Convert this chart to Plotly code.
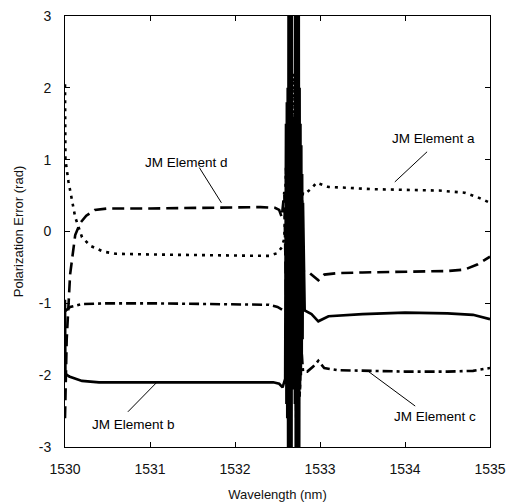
import plotly.graph_objects as go

# ---- data ----
a_x = [1530.000, 1530.005, 1530.040, 1530.120, 1530.200, 1530.300, 1530.450, 1530.600, 1531.000,
       1531.500, 1532.000, 1532.400, 1532.500, 1532.550, 1532.580, 1532.600, 1532.620, 1532.640,
       1532.660, 1532.680, 1532.700, 1532.720, 1532.740, 1532.760, 1532.780, 1532.800, 1532.850,
       1532.900, 1532.960, 1533.000, 1533.100, 1533.300, 1533.600, 1534.000, 1534.400, 1534.700,
       1534.850, 1535.000]
a_y = [2.05, 1.00, 0.70, 0.20, -0.08, -0.20, -0.28, -0.31, -0.32,
       -0.33, -0.34, -0.34, -0.30, -0.22, -0.10, 0.90, -0.60, 1.80,
       -0.50, 2.20, 0.10, 1.40, -0.40, 0.90, 0.30, 0.55, 0.55,
       0.60, 0.68, 0.66, 0.62, 0.61, 0.59, 0.58, 0.57, 0.54,
       0.48, 0.40]

d_x = [1530.000, 1530.020, 1530.060, 1530.120, 1530.180, 1530.250, 1530.350, 1530.500, 1531.000,
       1531.500, 1532.000, 1532.300, 1532.470, 1532.520, 1532.550, 1532.580, 1532.600, 1532.620,
       1532.640, 1532.660, 1532.680, 1532.700, 1532.720, 1532.740, 1532.760, 1532.780, 1532.800,
       1532.850, 1532.920, 1532.980, 1533.050, 1533.200, 1533.500, 1534.000, 1534.500, 1534.700,
       1534.850, 1535.000]
d_y = [-2.60, -1.50, -0.60, -0.05, 0.12, 0.22, 0.30, 0.32, 0.32,
       0.33, 0.33, 0.34, 0.33, 0.30, 0.20, 0.55, -0.90, 1.60,
       -1.40, 0.80, -1.80, 1.20, -1.20, 0.40, -0.90, -0.30, -0.55,
       -0.55, -0.62, -0.68, -0.60, -0.58, -0.57, -0.56, -0.55, -0.53,
       -0.46, -0.35]

b_x = [1530.000, 1530.005, 1530.050, 1530.200, 1530.400, 1531.000, 1531.500, 1532.000, 1532.450,
       1532.520, 1532.560, 1532.590,
       1532.600, 1532.605, 1532.610, 1532.615, 1532.620, 1532.625, 1532.630, 1532.635, 1532.640,
       1532.645, 1532.650, 1532.655, 1532.660, 1532.665, 1532.670, 1532.675, 1532.680, 1532.685,
       1532.690, 1532.695, 1532.700, 1532.705, 1532.710, 1532.715, 1532.720, 1532.725, 1532.730,
       1532.735, 1532.740, 1532.745, 1532.750, 1532.755, 1532.760, 1532.765, 1532.770, 1532.775,
       1532.780, 1532.785, 1532.790, 1532.795, 1532.800,
       1532.820, 1532.900, 1532.980, 1533.100, 1533.500, 1534.000, 1534.500, 1534.800, 1535.000]
b_y = [-0.95, -1.98, -2.02, -2.08, -2.10, -2.10, -2.10, -2.10, -2.10,
       -2.12, -2.17, -2.05,
       1.50, -2.40, 1.80, -2.60, 2.00, -3.50, 3.50, -3.50, 3.50,
       -3.50, 3.50, -3.50, 3.50, -3.50, 3.50, -2.20, 1.40, -2.00,
       1.20, -2.20, 1.60, -2.40, 3.50, -3.50, 3.50, -3.50, 3.50,
       -3.50, 3.50, -3.50, 3.50, -3.50, 2.00, -2.20, 1.50, -2.00,
       1.20, -1.80, 0.80, -1.50, 0.40,
       -1.10, -1.15, -1.25, -1.18, -1.15, -1.13, -1.14, -1.16, -1.22]

c_x = [1530.000, 1530.060, 1530.200, 1530.500, 1531.000, 1531.500, 1532.000, 1532.400, 1532.500,
       1532.550, 1532.600, 1532.620, 1532.640, 1532.660, 1532.680, 1532.700, 1532.720, 1532.740,
       1532.760, 1532.780, 1532.800, 1532.850, 1532.920, 1532.980, 1533.050, 1533.200, 1533.500,
       1534.000, 1534.500, 1534.800, 1535.000]
c_y = [-1.11, -1.05, -1.01, -1.00, -1.00, -1.01, -1.02, -1.02, -1.05,
       -1.08, -1.12, 0.60, -2.40, 0.20, -2.10, 0.90, -2.60, -0.20,
       -2.30, -1.60, -1.95, -1.95, -1.88, -1.80, -1.90, -1.93, -1.94,
       -1.95, -1.95, -1.94, -1.90]

x_ticks = [1530, 1531, 1532, 1533, 1534, 1535]
y_ticks = [-3, -2, -1, 0, 1, 2, 3]

labels = ["JM Element a", "JM Element b", "JM Element c", "JM Element d"]
label_text_x = [1534.34, 1530.80, 1534.35, 1531.43]
label_text_y = [1.29, -2.68, -2.57, 0.96]
leader_x0 = [1534.26, 1530.74, 1534.12, 1531.58]
leader_y0 = [1.11, -2.51, -2.43, 0.89]
leader_x1 = [1533.88, 1531.08, 1533.56, 1531.84]
leader_y1 = [0.69, -2.10, -1.94, 0.40]

FONT = "Liberation Sans, Arial, sans-serif"
LW = 2.6

fig = go.Figure()
fig.add_trace(go.Scatter(x=a_x, y=a_y, mode="lines", name="a",
                         line=dict(color="black", width=LW, dash="3px,5px")))
fig.add_trace(go.Scatter(x=d_x, y=d_y, mode="lines", name="d",
                         line=dict(color="black", width=LW, dash="12px,6px")))
fig.add_trace(go.Scatter(x=c_x, y=c_y, mode="lines", name="c",
                         line=dict(color="black", width=LW, dash="10px,4px,3px,4px")))
fig.add_trace(go.Scatter(x=b_x, y=b_y, mode="lines", name="b",
                         line=dict(color="black", width=LW)))

for i in range(len(labels)):
    fig.add_shape(type="line", xref="x", yref="y",
                  x0=leader_x0[i], y0=leader_y0[i], x1=leader_x1[i], y1=leader_y1[i],
                  line=dict(color="black", width=1))
    fig.add_annotation(x=label_text_x[i], y=label_text_y[i], xref="x", yref="y",
                       text=labels[i], showarrow=False,
                       font=dict(family=FONT, size=13.5, color="black"),
                       bgcolor="rgba(0,0,0,0)")

axis_common = dict(showline=True, linecolor="black", linewidth=1, mirror="ticks",
                   ticks="inside", ticklen=5, tickcolor="black", tickwidth=1,
                   showgrid=False, zeroline=False, automargin=False,
                   tickfont=dict(family=FONT, size=14, color="#111"))

fig.update_xaxes(range=[1530, 1535], tickvals=x_ticks, ticktext=[str(v) for v in x_ticks],
                 ticklabelstandoff=9,
                 title=dict(text="Wavelength (nm)", font=dict(family=FONT, size=13, color="#111"),
                            standoff=14),
                 **axis_common)
fig.update_yaxes(range=[-3, 3], tickvals=y_ticks, ticktext=[str(v) for v in y_ticks],
                 ticklabelstandoff=10,
                 title=dict(text="Polarization Error (rad)", font=dict(family=FONT, size=13, color="#111"),
                            standoff=12),
                 **axis_common)

fig.update_layout(width=507, height=504, showlegend=False,
                  margin=dict(l=65, r=17, t=16, b=57, autoexpand=False),
                  paper_bgcolor="white", plot_bgcolor="white")

# remove the default 8px body margin so the 507x504 figure fills the window exactly
fig.write_html("out.html", config={"displayModeBar": False},
               post_script="document.body.style.margin='0';document.body.style.overflow='hidden';")
